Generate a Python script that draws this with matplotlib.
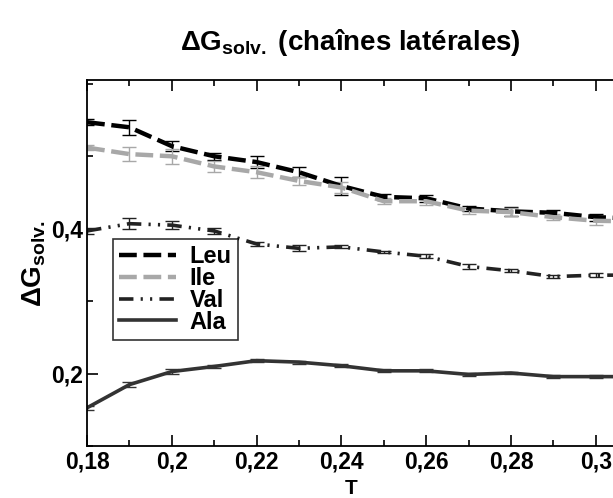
import matplotlib
matplotlib.use("Agg")
import matplotlib.pyplot as plt
from matplotlib.lines import Line2D
from matplotlib.ticker import MultipleLocator, FuncFormatter

plt.rcParams['font.family'] = ['Liberation Sans', 'DejaVu Sans']
plt.rcParams['font.weight'] = 'bold'
plt.rcParams['mathtext.fontset'] = 'custom'
plt.rcParams['mathtext.rm'] = 'Liberation Sans:bold'
plt.rcParams['mathtext.bf'] = 'Liberation Sans:bold'
plt.rcParams['mathtext.it'] = 'Liberation Sans:bold'

# temperature points
T = [0.18, 0.19, 0.20, 0.21, 0.22, 0.23, 0.24, 0.25, 0.26, 0.27, 0.28, 0.29, 0.30, 0.31]

leu = [0.547, 0.540, 0.514, 0.500, 0.492, 0.478, 0.459, 0.444, 0.442, 0.428, 0.424, 0.422, 0.416, 0.414]
leu_err = [0.004, 0.010, 0.007, 0.005, 0.008, 0.007, 0.012, 0.004, 0.005, 0.004, 0.006, 0.004, 0.005, 0.004]

ile = [0.512, 0.503, 0.500, 0.486, 0.478, 0.466, 0.457, 0.438, 0.438, 0.425, 0.423, 0.416, 0.411, 0.410]
ile_err = [0.004, 0.010, 0.010, 0.008, 0.008, 0.006, 0.008, 0.004, 0.005, 0.004, 0.006, 0.004, 0.006, 0.004]

val = [0.397, 0.407, 0.405, 0.397, 0.379, 0.373, 0.375, 0.368, 0.362, 0.348, 0.342, 0.334, 0.336, 0.336]
val_err = [0.004, 0.008, 0.006, 0.004, 0.003, 0.004, 0.002, 0.002, 0.003, 0.003, 0.002, 0.002, 0.003, 0.003]

ala = [0.153, 0.185, 0.203, 0.210, 0.218, 0.216, 0.211, 0.204, 0.204, 0.199, 0.201, 0.196, 0.196, 0.196]
ala_err = [0.003, 0.004, 0.003, 0.002, 0.002, 0.002, 0.002, 0.002, 0.002, 0.002, 0.002, 0.002, 0.002, 0.002]

names = ['Leu', 'Ile', 'Val', 'Ala']
styles = [
    dict(color='black', linestyle=(0, (4, 1.5)), linewidth=3.2),
    dict(color='#a8a8a8', linestyle=(0, (4, 1.5)), linewidth=3.2),
    dict(color='#222222', linestyle=(0, (4, 2, 0.6, 2, 0.6, 2)), linewidth=2.6),
    dict(color='#333333', linestyle='-', linewidth=2.6),
]

fig = plt.figure(figsize=(6.13, 4.98), dpi=100)
ax = fig.add_axes([0.142, 0.104, 0.899, 0.735])

for y, err, st in zip([leu, ile, val, ala], [leu_err, ile_err, val_err, ala_err], styles):
    ax.errorbar(T, y, yerr=err, capsize=5, elinewidth=1, ecolor=st['color'], **st)

ax.set_xlim(0.18, 0.31)
ax.set_ylim(0.1, 0.605)

ax.xaxis.set_major_locator(MultipleLocator(0.02))
ax.xaxis.set_minor_locator(MultipleLocator(0.01))
ax.set_yticks([0.2, 0.4])
ax.yaxis.set_minor_locator(MultipleLocator(0.1))

comma = FuncFormatter(lambda v, pos: ('%g' % round(v, 4)).replace('.', ','))
ax.xaxis.set_major_formatter(comma)
ax.yaxis.set_major_formatter(comma)

ax.tick_params(which='both', direction='in', top=True, right=False, width=1.2)
ax.tick_params(which='major', length=8, labelsize=16.5)
ax.tick_params(axis='x', which='major', pad=3)
ax.tick_params(axis='y', which='major', pad=3)
ax.tick_params(which='minor', length=4)
for lab in ax.get_xticklabels() + ax.get_yticklabels():
    lab.set_fontweight('bold')

for side in ['left', 'bottom', 'top']:
    ax.spines[side].set_linewidth(1.3)
ax.spines['right'].set_visible(False)

# x label sits at the bottom edge, slightly left of the axes centre
fig.text(351 / 613, 0.0, 'T', fontsize=15, fontweight='bold', ha='center', va='bottom')
ax.set_ylabel(r'$\mathbf{\Delta G_{solv.}}$', fontsize=20, labelpad=2)

fig.text(0.571, 0.915, r'$\mathbf{\Delta G_{solv.}}$ (chaînes latérales)', fontsize=20,
         fontweight='bold', ha='center', va='center')

handles = [Line2D([], [], **st) for st in styles]
leg = ax.legend(handles, names, loc='upper left', bbox_to_anchor=(0.047, 0.565), fontsize=17,
                frameon=True, fancybox=False, edgecolor='black', handlelength=2.4,
                handletextpad=0.6, labelspacing=-0.05, borderpad=0.25, borderaxespad=0)
leg.get_frame().set_linewidth(1.2)
for t in leg.get_texts():
    t.set_fontweight('bold')

fig.savefig('out.png', dpi=100)
